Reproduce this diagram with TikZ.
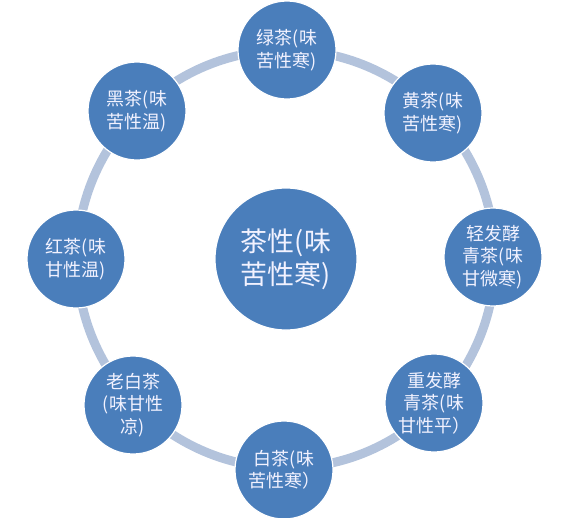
\documentclass[tikz,border=0pt]{standalone}
\usepackage{fontspec}
\newfontfamily\cjk{Noto Sans CJK SC}
\definecolor{ballblue}{HTML}{4A7EBB}
\definecolor{ringblue}{HTML}{B3C3DC}
\tikzset{
  ball/.style={circle, fill=ballblue, draw=white, line width=1.2pt, inner sep=0pt,
    minimum size=98pt, text=white!95!blue, align=center, font=\cjk\fontsize{18}{22.5}\selectfont},
  hub/.style={ball, minimum size=142pt, font=\cjk\fontsize{27}{33}\selectfont},
  ring/.style={draw=ringblue, line width=9pt}
}
\begin{document}
\begin{tikzpicture}[x=1pt,y=-1pt]
\useasboundingbox (0,0) rectangle (580,517);
\coordinate (c) at (286,259);
\draw[ring] (c) circle (209pt);
\node[hub] (center) at (c) {茶性(味\\苦性寒)};
\node[ball] (lv) at (287,50) {绿茶(味\\苦性寒)};
\node[ball] (huang) at (433,113) {黄茶(味\\苦性寒)};
\node[ball] (qing) at (493,257) {轻发酵\\青茶(味\\甘微寒)};
\node[ball] (zhong) at (434,403) {重发酵\\青茶(味\\甘性平）};
\node[ball] (bai) at (284,470) {白茶(味\\苦性寒）};
\node[ball] (laobai) at (133,405) {老白茶\\(味甘性\\凉)};
\node[ball] (hong) at (76,259) {红茶(味\\甘性温)};
\node[ball] (hei) at (137,111) {黑茶(味\\苦性温)};
\end{tikzpicture}
\end{document}
